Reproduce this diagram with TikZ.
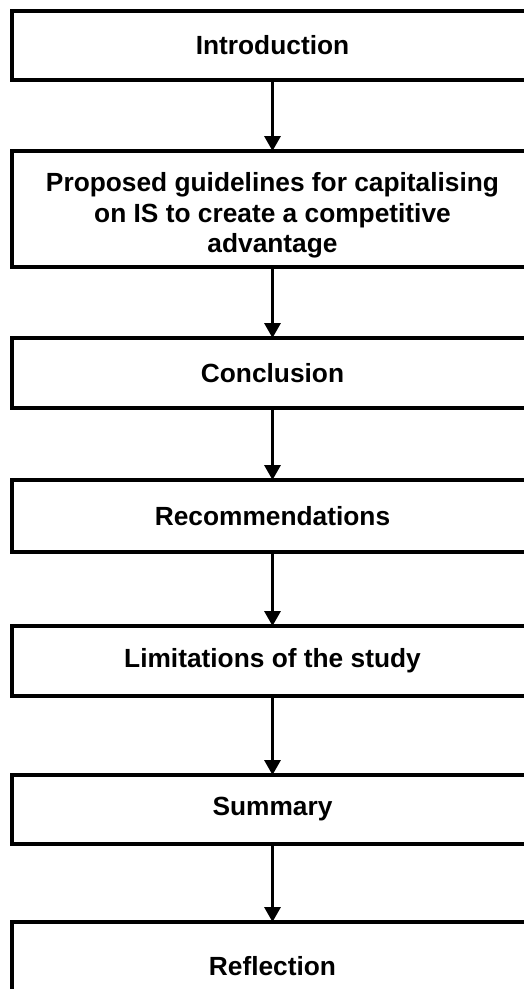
\documentclass[tikz,border=0pt]{standalone}
\usepackage{fontspec}
\setmainfont{Liberation Sans}
\usetikzlibrary{arrows.meta}
\begin{document}
\begin{tikzpicture}[x=1pt, y=-1pt,
  stagebox/.style={draw=black, line width=3.8pt, fill=white, outer sep=0pt,
    minimum width=521pt, align=center,
    font=\fontsize{26.3}{30.5}\selectfont\bfseries},
  flow/.style={draw=black, line width=3.2pt, -{Triangle[width=16pt,length=15pt]}}]
  \useasboundingbox (0,0) rectangle (524,989);
  \clip (0,0) rectangle (524,989);
  % stages of the chapter, top to bottom
  \node[stagebox, minimum height=69pt]  (intro) at (272.5,45.5)  {Introduction};
  \node[stagebox, minimum height=116pt] (guide) at (272.5,209)
    {\rule{0pt}{32pt}Proposed guidelines for capitalising\\on IS to create a competitive\\advantage};
  \node[stagebox, minimum height=70pt]  (concl) at (272.5,373)   {Conclusion};
  \node[stagebox, minimum height=72pt]  (recom) at (272.5,516)   {Recommendations};
  \node[stagebox, minimum height=70pt]  (limit) at (272.5,661)   {Limitations of the study};
  \node[stagebox, minimum height=69pt]  (summ)  at (272.5,809.5) {Summary};
  \node[stagebox, minimum height=88pt]  (refl)  at (272.5,966)   {Reflection};
  % connectors
  \draw[flow] (intro.south) -- (guide.north);
  \draw[flow] (guide.south) -- (concl.north);
  \draw[flow] (concl.south) -- (recom.north);
  \draw[flow] (recom.south) -- (limit.north);
  \draw[flow] (limit.south) -- (summ.north);
  \draw[flow] (summ.south)  -- (refl.north);
\end{tikzpicture}
\end{document}
